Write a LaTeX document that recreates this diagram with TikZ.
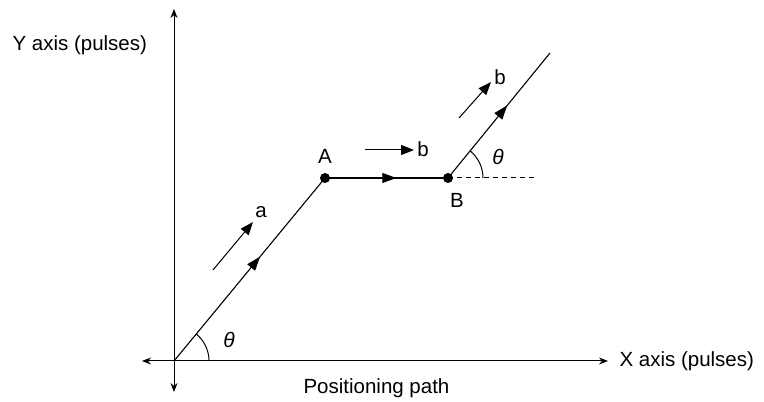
\documentclass[tikz,border=0pt]{standalone}
\usepackage{fontspec}
\setmainfont{Liberation Sans}
\usetikzlibrary{arrows.meta,decorations.markings}
\begin{document}
\begin{tikzpicture}[x=1pt,y=1pt,line width=1.1pt,
  lbl/.style={font=\fontsize{20.5}{24}\selectfont,inner sep=0pt},
  ang/.style={font=\fontsize{21}{24}\selectfont\itshape,inner sep=0pt},
  pt/.style={circle,fill=black,inner sep=0pt,minimum size=10pt},
  axisline/.style={line width=1pt,{Stealth[length=9pt,width=7pt]}-{Stealth[length=9pt,width=7pt]}},
  tri/.style={-{Triangle[length=13pt,width=10pt]}},
  pathseg/.style={postaction={decorate},decoration={markings,mark=at position #1 with {\arrow{Triangle[length=14pt,width=10pt]}}}},
  dashline/.style={dash pattern=on 5pt off 4pt,line width=1pt}]
\useasboundingbox (0,0) rectangle (764,402);
% axes
\coordinate (O) at (174,41);
\coordinate (Yt) at (174,393);
\coordinate (Yb) at (174,10);
\coordinate (Xl) at (142,41);
\coordinate (Xr) at (608,41);
\draw[axisline] (Yb) -- (Yt);
\draw[axisline] (Xl) -- (Xr);
\node[lbl,anchor=west] (ylab) at (12,357) {Y axis (pulses)};
\node[lbl,anchor=west] (xlab) at (619,41) {X axis (pulses)};
\node[lbl,anchor=west] (cap) at (303,14) {Positioning path};
% path points
\node[pt] (A) at (325,224) {};
\node[pt] (B) at (448,224) {};
\coordinate (E) at (550,349);
\draw[pathseg=0.57] (O) -- (A.center);
\draw[pathseg=0.58] (A.center) -- (B.center);
\draw[pathseg=0.58] (B.center) -- (E);
\node[lbl] (Alab) at (325,246) {A};
\node[lbl] (Blab) at (457,202) {B};
% dashed reference
\coordinate (D) at (538,224);
\draw[dashline] (B.center) -- (D);
% angles
\draw[line width=1pt] (O) ++(35,0) arc[start angle=0,end angle=50.7,radius=35pt];
\draw[line width=1pt] (B.center) ++(35,0) arc[start angle=0,end angle=50.7,radius=35pt];
\node[ang] (t1) at (229,62) {θ};
\node[ang] (t2) at (498,245) {θ};
% direction arrows
\coordinate (a1) at (213,132);
\coordinate (a2) at (253,180);
\draw[tri,line width=1pt] (a1) -- (a2);
\node[lbl] (alab) at (261,190) {a};
\coordinate (b1) at (365,252);
\coordinate (b2) at (414,252);
\draw[tri,line width=1pt] (b1) -- (b2);
\node[lbl] (blab1) at (423,253) {b};
\coordinate (c1) at (459,284);
\coordinate (c2) at (491,320);
\draw[tri,line width=1pt] (c1) -- (c2);
\node[lbl] (blab2) at (500,325) {b};
\end{tikzpicture}
\end{document}
